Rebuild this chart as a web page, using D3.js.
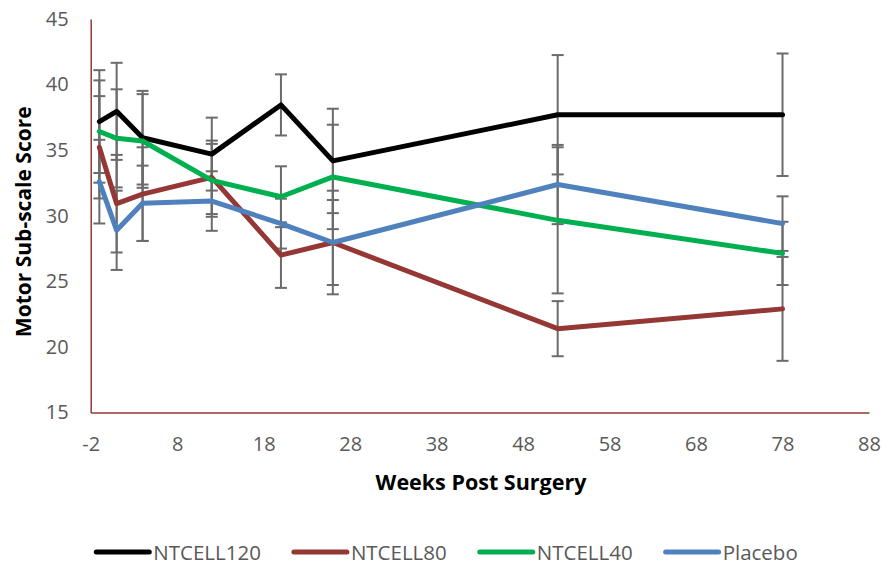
<!DOCTYPE html>
<html>
<head>
<meta charset="utf-8">
<script src="https://cdn.jsdelivr.net/npm/d3@7"></script>
<style>
  body { margin: 0; background: #fff; }
  svg { display: block; font-family: "Open Sans", "Noto Sans", sans-serif; }
</style>
</head>
<body>
<svg id="chart" width="883" height="564"></svg>
<script>
// ---- data ----
const weeks = [-1, 1, 4, 12, 20, 26, 52, 78];
const seriesNames = ["NTCELL120", "NTCELL80", "NTCELL40", "Placebo"];
const ntcell120 = [37.18, 37.96, 35.95, 34.7, 38.45, 34.18, 37.7, 37.7];
const ntcell120Err = [3.92, 3.7, 3.57, 2.78, 2.33, 3.98, 4.55, 4.67];
const ntcell80 = [35.22, 30.92, 31.65, 32.93, 27.0, 27.96, 21.39, 22.9];
const ntcell80Err = [3.9, 3.72, 3.57, 2.8, 2.5, 3.95, 2.1, 3.96];
const ntcell40 = [36.42, 35.9, 35.7, 32.7, 31.45, 32.96, 29.65, 27.13];
const ntcell40Err = [3.9, 3.74, 3.57, 2.78, 2.32, 3.98, 5.57, 2.41];
const placebo = [32.6, 28.89, 30.95, 31.12, 29.4, 27.96, 32.38, 29.4];
const placeboErr = [3.19, 3.02, 2.87, 2.27, 1.9, 3.24, 3.02, 2.08];
const xTicks = [-2, 8, 18, 28, 38, 48, 58, 68, 78, 88];
const yTicks = [15, 20, 25, 30, 35, 40, 45];
const colors = ["#000000", "#953735", "#00B050", "#4F81BD"];

const seriesValues = [ntcell120, ntcell80, ntcell40, placebo];
const seriesErrs = [ntcell120Err, ntcell80Err, ntcell40Err, placeboErr];

// ---- layout ----
const svg = d3.select("#chart");
const x = d3.scaleLinear().domain([-2, 88]).range([90.7, 869]);
const y = d3.scaleLinear().domain([15, 45]).range([412.5, 19]);

const axisColor = "#953735";
const labelColor = "#595959";
const fmt = d => String(d);

// axes
const xAxis = svg.append("g").attr("transform", `translate(0,${y(15)})`)
  .call(d3.axisBottom(x).tickValues(xTicks).tickSize(0).tickPadding(24).tickFormat(fmt));
const yAxis = svg.append("g").attr("transform", `translate(${x(-2)},0)`)
  .call(d3.axisLeft(y).tickValues(yTicks).tickSize(0).tickPadding(22).tickFormat(fmt));
[xAxis, yAxis].forEach(g => {
  g.select(".domain").attr("stroke", axisColor).attr("stroke-width", 1.5);
  g.selectAll("text").attr("fill", labelColor).style("font-size", "20px")
    .style("font-family", "'Open Sans', sans-serif");
});

// error bars (drawn beneath lines)
const errG = svg.append("g");
seriesValues.forEach((vals, si) => {
  const errs = seriesErrs[si];
  const data = weeks.map((w, i) => ({ w, v: vals[i], e: errs[i] }));
  const g = errG.append("g").attr("stroke", "#6b6b6b").attr("stroke-width", 2).attr("fill", "none");
  g.selectAll("line.v").data(data).join("line").attr("class", "v")
    .attr("x1", d => x(d.w)).attr("x2", d => x(d.w))
    .attr("y1", d => y(d.v + d.e)).attr("y2", d => y(d.v - d.e));
  g.selectAll("line.t").data(data).join("line").attr("class", "t")
    .attr("x1", d => x(d.w) - 6).attr("x2", d => x(d.w) + 6)
    .attr("y1", d => y(d.v + d.e)).attr("y2", d => y(d.v + d.e));
  g.selectAll("line.b").data(data).join("line").attr("class", "b")
    .attr("x1", d => x(d.w) - 6).attr("x2", d => x(d.w) + 6)
    .attr("y1", d => y(d.v - d.e)).attr("y2", d => y(d.v - d.e));
});

// series lines
const line = d3.line().x(d => x(d.w)).y(d => y(d.v));
seriesValues.forEach((vals, si) => {
  const data = weeks.map((w, i) => ({ w, v: vals[i] }));
  svg.append("path").datum(data)
    .attr("d", line).attr("fill", "none")
    .attr("stroke", colors[si]).attr("stroke-width", 5)
    .attr("stroke-linejoin", "round").attr("stroke-linecap", "round");
});

// axis titles
svg.append("text").attr("x", 481).attr("y", 490)
  .attr("text-anchor", "middle").attr("fill", "#000")
  .style("font-size", "21.5px").style("font-weight", "bold")
  .text("Weeks Post Surgery");
svg.append("text").attr("transform", `translate(31,${(y(15) + y(45)) / 2 + 6}) rotate(-90)`)
  .attr("text-anchor", "middle").attr("fill", "#000")
  .style("font-size", "21px").style("font-weight", "bold")
  .text("Motor Sub-scale Score");

// legend
const legend = svg.append("g");
const items = seriesNames.map((n, i) => {
  const g = legend.append("g");
  g.append("line").attr("x1", 2).attr("x2", 55).attr("y1", 0).attr("y2", 0)
    .attr("stroke", colors[i]).attr("stroke-width", 5).attr("stroke-linecap", "round");
  const t = g.append("text").attr("x", 59).attr("y", 7.5).attr("fill", labelColor)
    .style("font-size", "20.5px").text(n);
  return { g, w: 59 + t.node().getComputedTextLength() };
});
const gap = 31;
const total = d3.sum(items, d => d.w) + gap * (items.length - 1);
let cx = 446 - total / 2;
items.forEach(it => {
  it.g.attr("transform", `translate(${cx},552)`);
  cx += it.w + gap;
});
</script>
</body>
</html>
